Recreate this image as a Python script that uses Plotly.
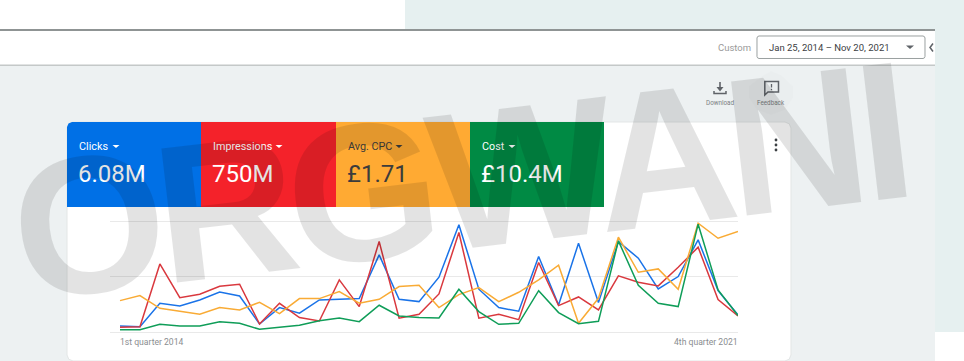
import plotly.graph_objects as go

years = range(2014, 2022)
names = ["1st", "2nd", "3rd", "4th"]
categories = [f"{q} quarter {y}" for y in years for q in names]

clicks = [5.7, 5.1, 26.2, 23.8, 29.2, 36.4, 32.8, 7.5, 22.3, 17.2, 29.2, 29.8, 30.4, 69.9, 29.8, 27.7,
          49.7, 97.0, 38.9, 22.3, 19.0, 68.4, 24.7, 80.4, 26.8, 81.9, 66.9, 39.2, 50.3, 83.4, 37.6, 15.7]
impressions = [4.5, 5.1, 61.7, 31.3, 34.3, 41.6, 43.4, 7.5, 26.2, 13.3, 10.2, 47.3, 23.2, 81.9, 12.7, 16.3,
               34.6, 90.1, 12.7, 16.3, 11.4, 63.0, 24.1, 31.9, 20.2, 50.9, 45.2, 41.9, 58.7, 76.8, 29.5, 14.8]
avg_cpc = [28.6, 33.1, 21.7, 19.3, 16.3, 22.3, 20.2, 27.1, 16.9, 30.4, 30.4, 36.7, 26.2, 29.8, 41.3, 42.5,
           22.3, 34.0, 40.4, 27.7, 36.1, 47.3, 60.5, 8.1, 30.7, 85.8, 54.2, 57.2, 38.9, 98.5, 84.9, 91.0]
cost = [2.4, 2.4, 7.2, 5.7, 5.7, 9.6, 8.1, 2.7, 4.5, 6.3, 10.5, 13.0, 9.6, 24.4, 14.8, 13.3,
        13.0, 38.9, 18.7, 7.2, 8.1, 37.6, 17.8, 7.8, 9.9, 82.5, 42.5, 26.2, 23.2, 97.6, 38.2, 15.1]

tile_labels = ["Clicks", "Impressions", "Avg. CPC", "Cost"]
tile_values = ["6.08M", "750M", "£1.71", "£10.4M"]
tile_colors = ["#0070E6", "#F4222A", "#FFAA33", "#008A44"]
tile_text = ["white", "white", "#3c3c3c", "white"]
tile_carets = [116, 279, 399, 512]
line_colors = ["#1a73e8", "#d9383e", "#f9ab35", "#0f9d58"]

L, R, T, B = 110, 738, 220, 334
W, H = 964, 361
Y0, Y100 = 332.3, 221.5
UNIT = (Y0 - Y100) / 100
def X(p): return (p - L) / (R - L)
def Y(p): return (B - p) / (B - T)

shapes, ann = [], []
def rect(x0, y0, x1, y1, fill, line=None, lw=1):
    shapes.append(dict(type="rect", xref="paper", yref="paper", x0=X(x0), x1=X(x1), y0=Y(y0), y1=Y(y1),
                       fillcolor=fill, line=dict(color=line or "rgba(0,0,0,0)", width=lw if line else 0), layer="below"))
def path(points, fill="rgba(0,0,0,0)", line=None, lw=1, close=True):
    d = "M " + " L ".join(f"{X(a):.5f},{Y(b):.5f}" for a, b in points) + (" Z" if close else "")
    shapes.append(dict(type="path", xref="paper", yref="paper", path=d, fillcolor=fill,
                       line=dict(color=line or "rgba(0,0,0,0)", width=lw if line else 0), layer="below"))
def text(px, py, s, size, color, anchor="left", family="Roboto"):
    shift = {"left": -2, "right": 2, "center": 0}[anchor]
    ann.append(dict(xref="paper", yref="paper", x=X(px + shift), y=Y(py), text=s, showarrow=False, xanchor=anchor,
                    yanchor="middle", font=dict(size=size, color=color, family=family)))
def rounded(x0, y0, x1, y1, r):
    return [(x0 + r, y0), (x1 - r, y0), (x1 - r * .3, y0 + r * .3), (x1, y0 + r), (x1, y1 - r),
            (x1 - r * .3, y1 - r * .3), (x1 - r, y1), (x0 + r, y1), (x0 + r * .3, y1 - r * .3), (x0, y1 - r),
            (x0, y0 + r), (x0 + r * .3, y0 + r * .3)]

# page regions
rect(405, 0, 964, 30, "#E6F0F0")
rect(935, 0, 964, 332, "#E6F0F0")
rect(0, 66, 935, 361, "#EDF1F2")
rect(0, 29, 935, 31, "#8f9494")
rect(0, 64.5, 935, 66, "#c4c8c8")
path(rounded(67, 122, 791, 361, 6), "white", "#e3e6e6")

# tiles
edges = [67, 201, 336, 470, 604]
for i in range(4):
    x0, x1 = edges[i], edges[i + 1]
    if i == 0:
        path([(x0 + 5, 122), (x1, 122), (x1, 207), (x0, 207), (x0, 127), (x0 + 1.5, 123.5)], tile_colors[i])
    else:
        rect(x0, 122, x1, 207, tile_colors[i])
    text(x0 + 12, 146, tile_labels[i], 10.8, tile_text[i])
    text(x0 + 11, 174, tile_values[i], 24, tile_text[i])
    cx = tile_carets[i]
    path([(cx - 3.5, 145), (cx + 3.5, 145), (cx, 148)], tile_text[i])

# toolbar
text(751, 47.5, "Custom", 9.5, "#9a9a9a", "right")
path(rounded(757, 36, 925, 58.5, 2), "white", "#9aa0a0")
text(769, 47.5, "Jan 25, 2014 – Nov 20, 2021", 9.5, "#3c4043")
path([(906, 45.5), (914, 45.5), (910, 49)], "#5f6368")
path([(933, 43.5), (930, 47.5), (933, 51.5)], line="#5f6368", lw=1.5, close=False)

# download + feedback
path([(762, 76), (771, 71), (781, 75), (793, 86), (793, 98), (785, 110), (771, 115), (757, 110), (749, 98), (749, 86)], "rgba(0,0,0,0.012)")
path([(720, 82), (720, 90)], line="#5f6368", lw=1.6, close=False)
path([(716.5, 87), (720, 91.5), (723.5, 87)], "#5f6368")
path([(714, 91), (714, 93.5), (726, 93.5), (726, 91)], line="#5f6368", lw=1.5, close=False)
text(720, 103.5, "Download", 6.3, "#7b7f82", "center")
path([(764.8, 81.5), (778.5, 81.5), (778.5, 92), (768, 92), (764.8, 95)], line="#5f6368", lw=1.5)
path([(771.5, 84), (771.5, 87.5)], line="#5f6368", lw=1.3, close=False)
path([(771.5, 88.8), (771.5, 90.2)], line="#5f6368", lw=1.3, close=False)
text(771, 103.5, "Feedback", 6.3, "#7b7f82", "center")
for dy in (140, 145, 150):
    shapes.append(dict(type="circle", xref="paper", yref="paper", x0=X(774.6), x1=X(777.4), y0=Y(dy - 1.4), y1=Y(dy + 1.4),
                       fillcolor="#3c4043", line=dict(width=0), layer="below"))

# axis end labels
for c, anchor, shift in ((categories[0], "left", -2), (categories[-1], "right", 2)):
    ann.append(dict(xref="x", yref="paper", x=c, y=Y(342), text=c, showarrow=False, xanchor=anchor, yanchor="middle",
                    xshift=shift, font=dict(size=8.6, color="#8a8d90", family="Roboto")))

# watermark
ann.append(dict(xref="paper", yref="paper", x=X(458), y=Y(181), text="<b>ORGWANI</b>", showarrow=False, textangle=-6.7,
                xanchor="center", yanchor="middle",
                font=dict(size=196, color="rgba(0,0,0,0.11)", family="Liberation Sans")))

fig = go.Figure()
for name, vals, col in zip(tile_labels, [clicks, impressions, avg_cpc, cost], line_colors):
    fig.add_trace(go.Scatter(x=categories, y=vals, name=name, mode="lines",
                             line=dict(color=col, width=1.5), hoverinfo="skip"))

fig.update_layout(
    width=W, height=H, autosize=False, showlegend=False,
    margin=dict(l=L, r=W - R, t=T, b=H - B, pad=0),
    paper_bgcolor="white", plot_bgcolor="rgba(0,0,0,0)",
    shapes=shapes, annotations=ann,
    xaxis=dict(type="category", range=[-0.5016, 31], showgrid=False, showticklabels=False, zeroline=False,
               ticks="", showline=False, categoryorder="array", categoryarray=categories),
    yaxis=dict(range=[(Y0 - B) / UNIT, 100 + (Y100 - T) / UNIT], tickvals=[0, 50, 100], showticklabels=False,
               gridcolor="#e9e9e9", gridwidth=1, zeroline=False, showline=False, ticks=""),
)
post = """
document.body.style.margin='0';document.body.style.overflow='hidden';
document.querySelectorAll('.annotation-text').forEach(function(t){
  if(t.textContent==='ORGWANI'){t.style.letterSpacing='-9px';}
});
"""
fig.write_html("out.html", config=dict(displayModeBar=False), post_script=post)
